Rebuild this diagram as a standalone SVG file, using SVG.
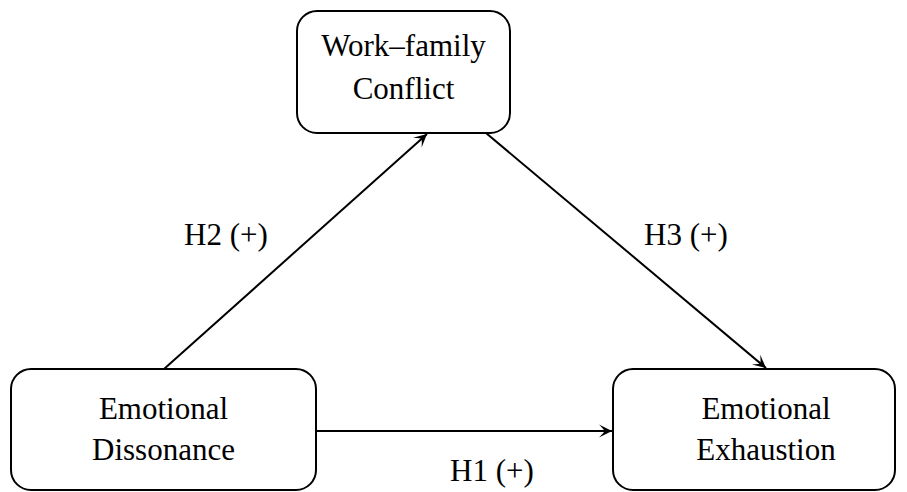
<svg xmlns="http://www.w3.org/2000/svg" width="907" height="492" viewBox="0 0 907 492">
<style>
.box{fill:#fff;stroke:#000;stroke-width:2}
.t{font-family:"Liberation Serif","Times New Roman",serif;font-size:31px;fill:#000;text-anchor:middle}
.e{fill:none;stroke:#000;stroke-width:2}
</style>
<defs>
<marker id="ah" viewBox="-14 -8 16 16" refX="0" refY="0" markerWidth="16" markerHeight="16" markerUnits="userSpaceOnUse" orient="auto">
<path d="M0,0 L-13,-6.5 Q-7.5,-1 -7.5,0 Q-7.5,1 -13,6.5 Z" fill="#000"/>
</marker>
</defs>
<rect width="907" height="492" fill="#fff"/>
<g id="edges">
<line class="e" x1="164" y1="369" x2="427" y2="134" marker-end="url(#ah)"/>
<line class="e" x1="486" y1="133" x2="766" y2="368" marker-end="url(#ah)"/>
<line class="e" x1="316" y1="431" x2="612" y2="431" marker-end="url(#ah)"/>
<text class="t" x="226" y="245">H2 (+)</text>
<text class="t" x="686" y="245">H3 (+)</text>
<text class="t" x="492" y="481">H1 (+)</text>
</g>
<g id="wfc">
<rect class="box" x="297" y="11" width="213" height="122" rx="20"/>
<text class="t" x="403.5" y="56">Work–family</text>
<text class="t" x="403.5" y="99">Conflict</text>
</g>
<g id="ed">
<rect class="box" x="11" y="369" width="305" height="121" rx="20"/>
<text class="t" x="163.5" y="419">Emotional</text>
<text class="t" x="163.5" y="460">Dissonance</text>
</g>
<g id="ee">
<rect class="box" x="613" y="369" width="282" height="121" rx="20"/>
<text class="t" x="766" y="419">Emotional</text>
<text class="t" x="766" y="460">Exhaustion</text>
</g>
</svg>
